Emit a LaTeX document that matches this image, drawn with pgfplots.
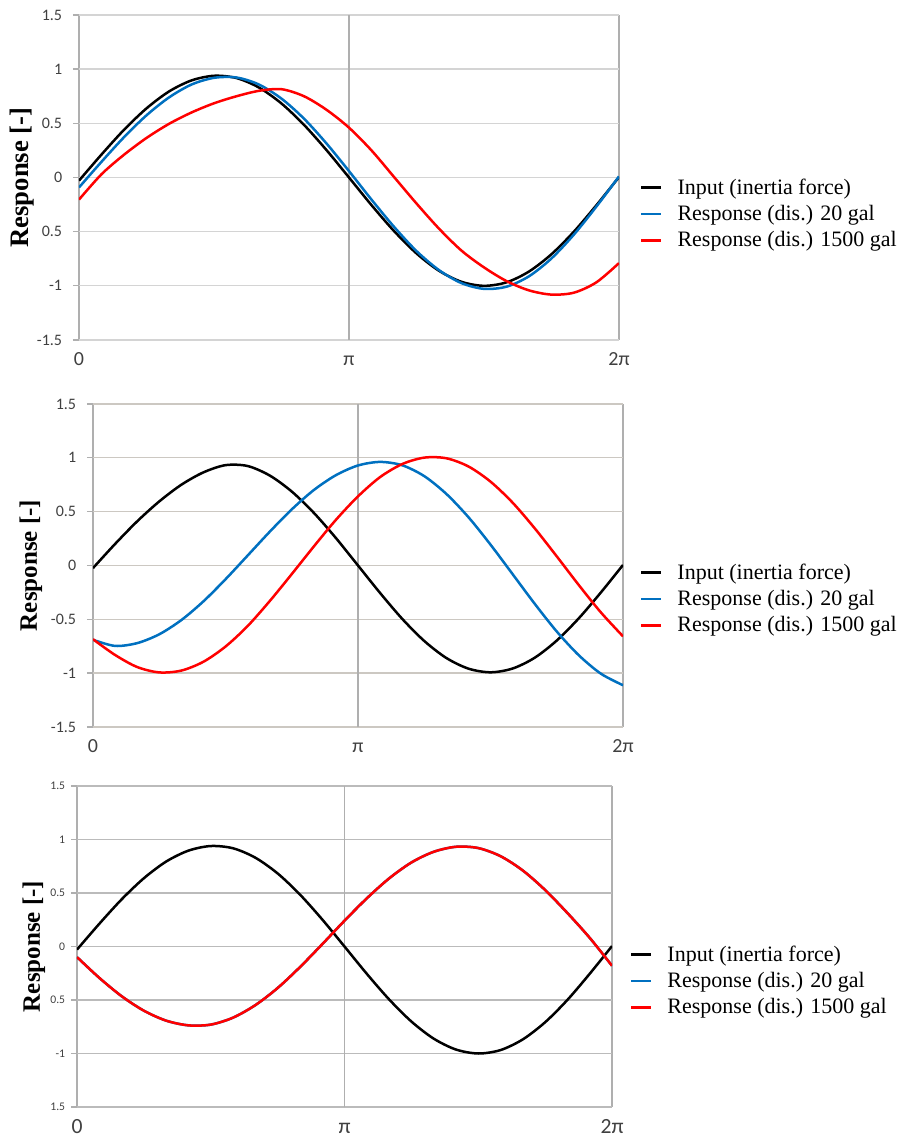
\documentclass[border=0pt]{standalone}
\usepackage{fontspec}
\setmainfont{Liberation Serif}
\newfontfamily\calfont{Carlito}
\usepackage{pgfplots}
\usepackage{pgfplotstable}
\pgfplotsset{compat=1.18}

\definecolor{gridc}{RGB}{212,212,212}
\definecolor{gridw}{RGB}{204,200,194}
\definecolor{vline}{RGB}{135,135,135}
\definecolor{frame}{RGB}{175,175,175}
\definecolor{tickc}{RGB}{64,64,64}
\definecolor{xblue}{RGB}{0,112,192}
\definecolor{xred}{RGB}{255,0,0}

% phase k = 0..24 spans one period (k = 12 is pi)
\pgfplotstableread{
k   input   d20     d1500
0   -0.029  -0.092  -0.204
1    0.212   0.145   0.030
2    0.440   0.372   0.210
3    0.638   0.574   0.365
4    0.794   0.739   0.495
5    0.896   0.858   0.600
6    0.939   0.920   0.685
7    0.918   0.923   0.750
8    0.830   0.858   0.800
9    0.683   0.728   0.815
10   0.486   0.543   0.750
11   0.253   0.314   0.625
12   0.000   0.059   0.460
13  -0.255  -0.204   0.250
14  -0.494  -0.455   0.005
15  -0.701  -0.679  -0.240
16  -0.861  -0.855  -0.472
17  -0.963  -0.975  -0.675
18  -1.000  -1.028  -0.830
19  -0.968  -1.008  -0.956
20  -0.868  -0.912  -1.042
21  -0.708  -0.747  -1.081
22  -0.499  -0.526  -1.063
23  -0.255  -0.267  -0.967
24   0.004   0.010  -0.790
}\caseA

\pgfplotstableread{
k   input   d20     d1500
0   -0.024  -0.690  -0.685
1    0.200  -0.747  -0.831
2    0.410  -0.721  -0.943
3    0.595  -0.639  -0.993
4    0.750  -0.507  -0.976
5    0.865  -0.333  -0.894
6    0.932  -0.128  -0.753
7    0.924   0.092  -0.563
8    0.836   0.313  -0.331
9    0.687   0.521  -0.080
10   0.489   0.701   0.177
11   0.255   0.839   0.424
12   0.000   0.929   0.642
13  -0.255   0.962   0.821
14  -0.495   0.931   0.942
15  -0.701   0.830   1.002
16  -0.859   0.665   0.996
17  -0.958   0.449   0.920
18  -0.992   0.194   0.779
19  -0.957  -0.080   0.584
20  -0.857  -0.355   0.346
21  -0.697  -0.613   0.085
22  -0.490  -0.834  -0.182
23  -0.250  -1.005  -0.436
24   0.005  -1.112  -0.658
}\caseB

\pgfplotstableread{
k   input   d20     d1500
0   -0.029  -0.099  -0.099
1    0.212  -0.293  -0.293
2    0.440  -0.464  -0.464
3    0.638  -0.600  -0.600
4    0.794  -0.693  -0.693
5    0.896  -0.737  -0.737
6    0.939  -0.730  -0.730
7    0.918  -0.665  -0.665
8    0.830  -0.548  -0.548
9    0.683  -0.388  -0.388
10   0.486  -0.193  -0.193
11   0.253   0.021   0.021
12   0.000   0.241   0.241
13  -0.255   0.450   0.450
14  -0.494   0.636   0.636
15  -0.701   0.785   0.785
16  -0.861   0.885   0.885
17  -0.963   0.932   0.932
18  -1.000   0.920   0.920
19  -0.968   0.844   0.844
20  -0.868   0.710   0.710
21  -0.708   0.528   0.528
22  -0.499   0.313   0.313
23  -0.255   0.081   0.081
24   0.004  -0.180  -0.180
}\caseC

\pgfplotsset{
  resp/.style={
    scale only axis, anchor=south west,
    xmin=0, xmax=24, ymin=-1.5, ymax=1.5,
    axis line style={draw=none},
    xtick={0,24}, xticklabels={0,2π},
    extra x ticks={12}, extra x tick labels={π},
    extra x tick style={grid style={vline,line width=0.9pt}},
    ytick={-1.5,-1,-0.5,0,0.5,1,1.5},
    xmajorgrids, ymajorgrids,
    x grid style={frame,line width=0.8pt},
    y grid style={gridc,line width=0.8pt},
    tick align=outside, major tick length=3.6pt,
    xtick style={draw=none}, ytick style={frame,line width=0.8pt},
    xtick pos=bottom, ytick pos=left,
    ticklabel style={text=tickc},
    yticklabel style={font=\calfont\fontsize{9.6}{11}\selectfont, xshift=-3pt},
    xticklabel style={font=\calfont\fontsize{12}{14}\selectfont, anchor=base, yshift=-12pt},
    legend image code/.code={\draw[##1] (0pt,0pt) -- (12pt,0pt); \path (21pt,0pt);},
    legend cell align=left,
    legend style={draw=none, fill=none, inner sep=0pt, outer sep=0pt,
      anchor=west, row sep=5.1pt, font=\fontsize{13.2}{15}\selectfont,
      nodes={inner sep=0pt}},
  },
  curve/.style={line width=1.5pt, smooth},
}

\begin{document}
\begin{tikzpicture}
\useasboundingbox (0pt,0pt) rectangle (539.4pt,683.4pt);

% --- top panel
\begin{axis}[resp, at={(47.4pt,479.4pt)}, width=324pt, height=195pt,
  yticklabels={-1.5,-1,0.5,0,0.5,1,1.5},
  ylabel={Response [-]},
  every axis y label/.style={at={(axis description cs:-0.1056,0.5)}, rotate=90,
    anchor=center, font=\bfseries\fontsize{16}{18}\selectfont},
  legend style={at={(axis description cs:1.0389,0.3877)}}]
\addplot[curve, black] table[x=k, y=input] {\caseA};
\addlegendentry{Input (inertia force)}
\addplot[curve, xblue] table[x=k, y=d20] {\caseA};
\addlegendentry{Response (dis.) 20 gal}
\addplot[curve, xred] table[x=k, y=d1500] {\caseA};
\addlegendentry{Response (dis.) 1500 gal}
\end{axis}

% --- middle panel
\begin{axis}[resp, at={(55.8pt,247.2pt)}, width=318pt, height=193.8pt,
  y grid style={gridw,line width=0.8pt},
  yticklabels={-1.5,-1,-0.5,0,0.5,1,1.5},
  ylabel={Response [-]},
  every axis y label/.style={at={(axis description cs:-0.117,0.5)}, rotate=90,
    anchor=center, font=\bfseries\fontsize{15}{17}\selectfont},
  legend style={at={(axis description cs:1.032,0.3963)}}]
\addplot[curve, black] table[x=k, y=input] {\caseB};
\addlegendentry{Input (inertia force)}
\addplot[curve, xblue] table[x=k, y=d20] {\caseB};
\addlegendentry{Response (dis.) 20 gal}
\addplot[curve, xred] table[x=k, y=d1500] {\caseB};
\addlegendentry{Response (dis.) 1500 gal}
\end{axis}

% --- bottom panel
\begin{axis}[resp, at={(46.2pt,19.2pt)}, width=321pt, height=192.6pt,
  y grid style={frame!85,line width=0.8pt},
  yticklabels={1.5,-1,0.5,0,0.5,1,1.5},
  yticklabel style={font=\calfont\fontsize{7}{8}\selectfont, xshift=3pt},
  xticklabel style={font=\calfont\fontsize{13}{15}\selectfont},
  ylabel={Response [-]},
  every axis y label/.style={at={(axis description cs:-0.0804,0.5)}, rotate=90,
    anchor=center, font=\bfseries\fontsize{15}{17}\selectfont},
  legend style={at={(axis description cs:1.0336,0.3925)}}]
\addplot[curve, black] table[x=k, y=input] {\caseC};
\addlegendentry{Input (inertia force)}
\addplot[curve, xblue] table[x=k, y=d20] {\caseC};
\addlegendentry{Response (dis.) 20 gal}
\addplot[curve, xred] table[x=k, y=d1500] {\caseC};
\addlegendentry{Response (dis.) 1500 gal}
\end{axis}
\end{tikzpicture}
\end{document}
